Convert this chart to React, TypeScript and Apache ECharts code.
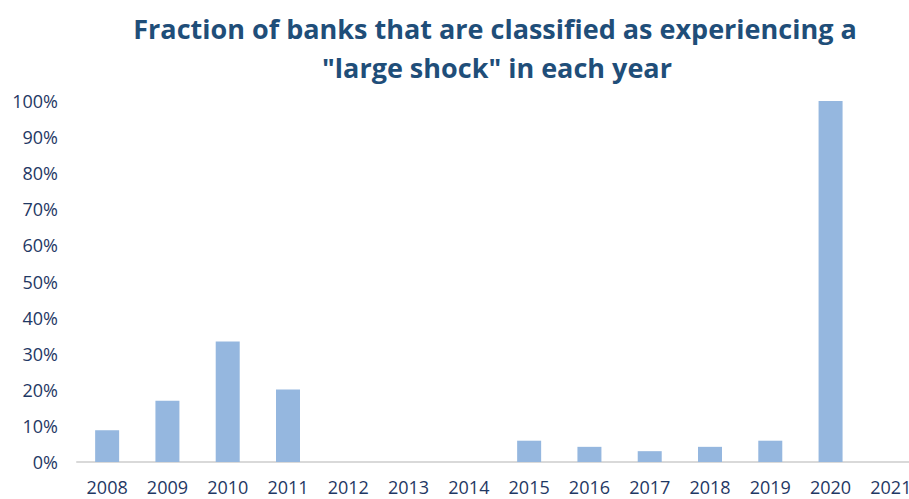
import React, { useEffect, useRef } from "react";
import * as echarts from "echarts";

const categories = ["2008", "2009", "2010", "2011", "2012", "2013", "2014", "2015", "2016", "2017", "2018", "2019", "2020", "2021"];
const shareValues = [8.8, 17.0, 33.4, 20.1, 0, 0, 0, 5.9, 4.2, 3.0, 4.2, 5.9, 100, 0];
const yTicks = [0, 10, 20, 30, 40, 50, 60, 70, 80, 90, 100];
const titleLines = ["Fraction of banks that are classified as experiencing a", "\"large shock\" in each year"];

export default function App() {
  const ref = useRef<HTMLDivElement>(null);
  useEffect(() => {
    if (!ref.current) return;
    const chart = echarts.init(ref.current, null, { renderer: "svg" });
    chart.setOption({
      animation: false,
      backgroundColor: "#ffffff",
      graphic: [
        {
          type: "text",
          x: 495,
          y: 28,
          style: {
            text: titleLines[0],
            font: "bold 27px 'Open Sans'",
            fill: "#1F4E79",
            textAlign: "center",
            textVerticalAlign: "middle",
          },
        },
        {
          type: "text",
          x: 497,
          y: 67,
          style: {
            text: titleLines[1],
            font: "bold 27px 'Open Sans'",
            fill: "#1F4E79",
            textAlign: "center",
            textVerticalAlign: "middle",
          },
        },
      ],
      grid: { left: 77, right: 0, top: 101, bottom: 37, containLabel: false },
      xAxis: {
        type: "category",
        data: categories,
        axisLine: { show: true, lineStyle: { color: "#D9D9D9", width: 2 } },
        axisTick: { show: false },
        axisLabel: { color: "#1F3864", fontFamily: "Open Sans", fontSize: 18, margin: 16 },
      },
      yAxis: {
        type: "value",
        min: 0,
        max: yTicks[yTicks.length - 1],
        interval: 10,
        splitLine: { show: false },
        axisLine: { show: false },
        axisTick: { show: false },
        axisLabel: {
          color: "#1F3864",
          fontFamily: "Open Sans",
          fontSize: 18,
          margin: 19,
          formatter: (v: number) => `${v}%`,
        },
      },
      series: [
        {
          type: "bar",
          data: shareValues,
          barWidth: 24,
          itemStyle: { color: "#95B7DF" },
        },
      ],
    });
    return () => chart.dispose();
  }, []);
  return (
    <div style={{ width: 909, height: 499, position: "fixed", left: 0, top: 0, overflow: "hidden", background: "#fff" }}>
      <div ref={ref} style={{ width: 921, height: 499 }} />
    </div>
  );
}
